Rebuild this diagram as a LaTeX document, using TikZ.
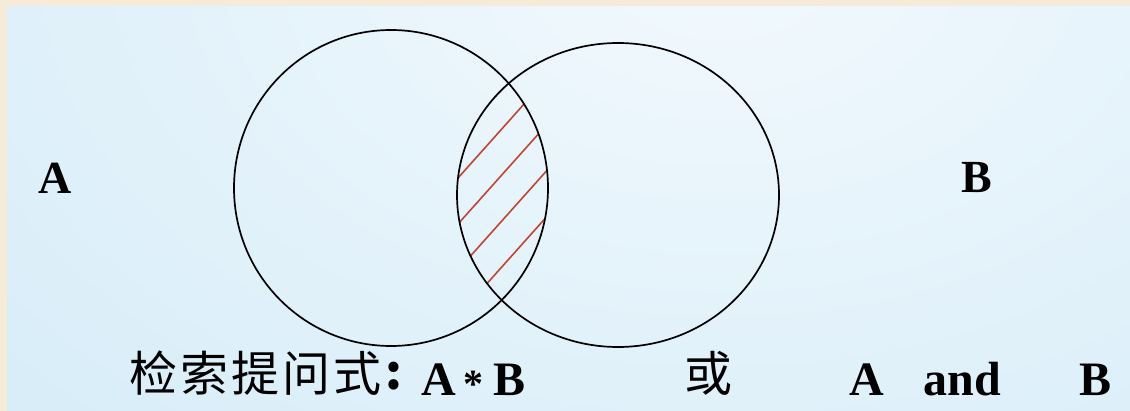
\documentclass[tikz,border=0pt]{standalone}
\usepackage{fontspec}
\setmainfont{Liberation Serif}
\newfontfamily\cjk{Noto Sans CJK SC}
\definecolor{framecol}{RGB}{245,235,216}
\definecolor{bgin}{RGB}{242,249,253}
\definecolor{bgout}{RGB}{203,231,246}
\definecolor{hatchcol}{RGB}{192,70,50}
\begin{document}
\begin{tikzpicture}[x=1pt,y=-1pt,
  circ/.style={draw=black,line width=1.7pt},
  hatchline/.style={draw=hatchcol,line width=1.6pt},
  midlbl/.style={font=\fontsize{46}{46}\selectfont\bfseries,inner sep=0pt},
  btxt/.style={font=\fontsize{48}{48}\selectfont\bfseries,inner sep=0pt,anchor=base},
  cjkt/.style={font=\cjk\fontsize{48}{48}\selectfont,inner sep=0pt,anchor=base}]
\useasboundingbox (0,0) rectangle (1130,411);
\fill[framecol] (0,0) rectangle (1130,411);
\begin{scope}
  \clip (7,7) rectangle (1130,411);
  \shade[inner color=bgin,outer color=bgout] (720,-40) ellipse [x radius=1440pt,y radius=960pt];
\end{scope}
\coordinate (cA) at (391,188);
\coordinate (cB) at (618,195);
\begin{scope}
  \clip (cA) ellipse [x radius=157pt,y radius=158pt];
  \clip (cB) ellipse [x radius=161pt,y radius=152pt];
  \foreach \y in {178,224,270,316}
    \draw[hatchline] (438,{\y+22.4}) -- (570,{\y-125.4});
\end{scope}
\draw[circ] (cA) ellipse [x radius=157pt,y radius=158pt];
\draw[circ] (cB) ellipse [x radius=161pt,y radius=152pt];
\node[midlbl] (la) at (55,178) {A};
\node[midlbl] (lb) at (977,178) {B};
\foreach \ch/\cx/\nm in {检/153/q1,索/204/q2,提/255/q3,问/306/q4,式/357/q5}
  \node[cjkt] (\nm) at (\cx,392) {\ch};
\node[cjkt,font=\cjk\bfseries\fontsize{48}{48}\selectfont] (colon) at (394,390) {:};
\node[btxt] (qa) at (439,396) {A};
\node[btxt,font=\fontsize{40}{40}\selectfont\bfseries] (star) at (473,398) {*};
\node[btxt] (qb) at (510,396) {B};
\node[cjkt] (orr) at (708,392) {或};
\node[btxt] (a2) at (867,396) {A};
\node[btxt] (and) at (962,396) {and};
\node[btxt] (b2) at (1095,396) {B};
\end{tikzpicture}
\end{document}
